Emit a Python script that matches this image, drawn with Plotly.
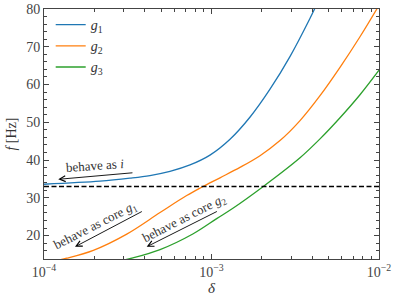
import plotly.graph_objects as go

# data
delta_g1 = [1e-4, 2.16e-4, 3.26e-4, 4.29e-4, 5.65e-4, 7.44e-4, 9.79e-4, 1.29e-3, 1.70e-3,
            2.23e-3, 2.94e-3, 3.87e-3, 4.44e-3]
f_g1 = [33.6, 34.4, 35.2, 35.9, 37.0, 38.7, 41.3, 45.5, 51.4, 58.7, 67.4, 77.5, 83.0]

delta_g2 = [1.246e-4, 1.366e-4, 1.97e-4, 3.12e-4, 4.93e-4, 7.11e-4, 8.74e-4, 1.124e-3, 1.479e-3,
            1.948e-3, 2.564e-3, 3.377e-3, 4.445e-3, 5.85e-3, 7.70e-3, 9.69e-3, 1e-2]
f_g2 = [13.6, 14.0, 16.1, 20.4, 26.1, 30.6, 32.8, 35.3, 38.05, 41.15, 45.15, 50.45, 57.05,
        64.55, 72.65, 79.95, 81.0]

delta_g3 = [3.05e-4, 3.34e-4, 4.93e-4, 7.78e-4, 1.074e-3, 1.349e-3, 2.038e-3, 3.377e-3,
            4.445e-3, 5.85e-3, 7.70e-3, 1e-2]
f_g3 = [13.6, 14.0, 16.3, 20.5, 24.5, 27.3, 33.0, 40.6, 45.6, 51.2, 57.3, 63.8]

f_ref = 33.0
series_names = ["<i>g</i><sub>1</sub>", "<i>g</i><sub>2</sub>", "<i>g</i><sub>3</sub>"]
colors = ["#1f77b4", "#ff7f0e", "#2ca02c"]
x_tickvals = [1e-4, 1e-3, 1e-2]
x_ticktext = ["10<sup>−4</sup>", "10<sup>−3</sup>", "10<sup>−2</sup>"]
y_tickvals = [20, 30, 40, 50, 60, 70, 80]

FONT = "Liberation Serif, DejaVu Serif, serif"
fig = go.Figure()
for xs, ys, name, c in zip([delta_g1, delta_g2, delta_g3], [f_g1, f_g2, f_g3], series_names, colors):
    fig.add_trace(go.Scatter(x=xs, y=ys, mode="lines", name=name,
                             line=dict(color=c, width=1.3, shape="spline", smoothing=1.0)))

fig.add_shape(type="line", xref="paper", x0=0, x1=1, yref="y", y0=f_ref, y1=f_ref,
              line=dict(color="black", width=1.5, dash="5px,2.5px"))

# arrows (annotation positions on log axis are log10 values)
arrows = [
    ((-3.915, 34.9), (-3.463, 36.66)),
    ((-3.815, 17.03), (-3.407, 26.58)),
    ((-3.387, 17.03), (-2.959, 26.58)),
]
for (hx, hy), (tx, ty) in arrows:
    fig.add_annotation(x=hx, y=hy, ax=tx, ay=ty, xref="x", yref="y", axref="x", ayref="y",
                       text="", showarrow=True, arrowhead=5, arrowsize=1.3, arrowwidth=0.9,
                       arrowcolor="black")

labels = [
    ("behave as <i>i</i>", -3.696, 38.5, -4),
    ("behave as core <i>g</i><sub>1</sub>", -3.69, 22.6, -27),
    ("behave as core <i>g</i><sub>2</sub>", -3.16, 24.4, -27),
]
for t, x, y, ang in labels:
    fig.add_annotation(x=x, y=y, xref="x", yref="y", text=t, showarrow=False,
                       textangle=ang, font=dict(family=FONT, size=13, color="#333"))

axis_common = dict(showline=True, linecolor="#444", linewidth=1, mirror="ticks",
                   ticks="inside", ticklen=5, tickcolor="#444", showgrid=False, zeroline=False,
                   automargin=False,
                   tickfont=dict(family=FONT, size=14, color="#444"))
fig.update_xaxes(type="log", range=[-4, -2], tickvals=x_tickvals, ticktext=x_ticktext,
                 minor=dict(ticks="inside", ticklen=3, tickcolor="#444",
                            tickvals=[k * 10.0 ** e for e in (-4, -3) for k in range(2, 10)]),
                 title=dict(text="<i>δ</i>", font=dict(family=FONT, size=15, color="#333"), standoff=2),
                 **axis_common)
fig.update_yaxes(range=[13.8, 80], tickvals=y_tickvals,
                 minor=dict(ticks="inside", ticklen=3, tickcolor="#444", dtick=2),
                 title=dict(text="<i>f</i> [Hz]", font=dict(family=FONT, size=14, color="#333"), standoff=6),
                 **axis_common)

fig.update_layout(width=397, height=301, margin=dict(l=44, r=18, t=9, b=42),
                  plot_bgcolor="white", paper_bgcolor="white",
                  font=dict(family=FONT, color="#333"),
                  legend=dict(x=0.02, y=1.0, xanchor="left", yanchor="top", bgcolor="rgba(0,0,0,0)",
                              font=dict(family=FONT, size=14, color="#333"), tracegroupgap=0,
                              itemwidth=30))
fig.write_html("out.html", config={"displayModeBar": False},
               post_script="document.body.style.margin='0';")
